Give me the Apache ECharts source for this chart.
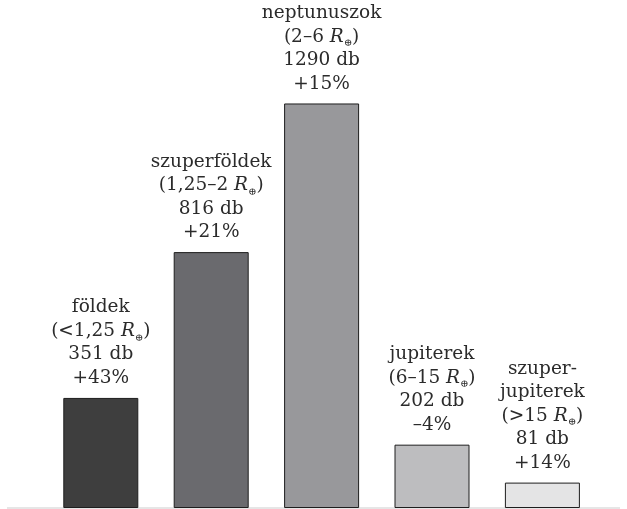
<!DOCTYPE html>
<html>
<head>
<meta charset="utf-8">
<script src="https://cdn.jsdelivr.net/npm/echarts@6/dist/echarts.min.js"></script>
<style>html,body{margin:0;padding:0;background:#fff}#c{width:627px;height:509px}</style>
</head>
<body>
<div id="c"></div>
<script>
var categories = ['földek', 'szuperföldek', 'neptunuszok', 'jupiterek', 'szuper-\njupiterek'];
var ranges = ['<1,25', '1,25–2', '2–6', '6–15', '>15'];
var counts = [351, 816, 1290, 202, 81];
var changes = ['+43%', '+21%', '+15%', '–4%', '+14%'];
var barColors = ['#3e3e3e', '#6a6a6e', '#98989b', '#bdbdbf', '#e4e4e5'];

var chart = echarts.init(document.getElementById('c'), null, {renderer: 'canvas'});
var FONT = 'DejaVu Serif';
var data = counts.map(function (v, i) {
  return {
    value: v,
    itemStyle: {color: barColors[i]},
    label: {
      formatter: categories[i].split('\n').map(function (s) { return '{t|' + s + '}'; }).join('\n') +
        '\n{t|(' + ranges[i] + ' }{i|R}{s|⊕}{t|)}\n{t|' + v + ' db}\n{t|' + changes[i] + '}'
    }
  };
});

chart.setOption({
  animation: false,
  grid: {left: 45.6, right: 29.4, top: 0, bottom: 1},
  xAxis: {
    type: 'category', data: categories,
    axisLine: {show: false}, axisTick: {show: false}, axisLabel: {show: false}
  },
  yAxis: {type: 'value', min: 0, max: 1620, show: false, splitLine: {show: false}},
  graphic: [{
    type: 'rect', z: -1,
    shape: {x: 7, y: 507, width: 613, height: 2},
    style: {fill: '#e6e6e6'}
  }],
  series: [{
    type: 'bar',
    data: data,
    barWidth: 75,
    itemStyle: {borderColor: '#1e1e1e', borderWidth: 1},
    label: {
      show: true, position: 'top', distance: 8,
      align: 'center',
      rich: {
        t: {fontFamily: FONT, fontSize: 18.5, lineHeight: 23.5, color: '#2b2b2b'},
        i: {fontFamily: FONT, fontSize: 18.5, lineHeight: 23.5, fontStyle: 'italic', color: '#2b2b2b'},
        s: {fontFamily: FONT, fontSize: 10, lineHeight: 11, color: '#2b2b2b', verticalAlign: 'bottom'}
      }
    }
  }]
});
</script>
</body>
</html>
